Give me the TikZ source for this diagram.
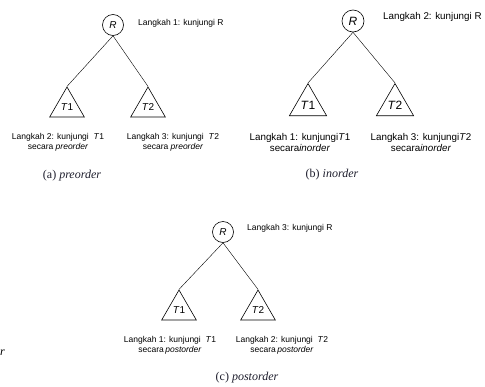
\documentclass[tikz,border=0pt]{standalone}
\usepackage{fontspec}
\setmainfont{Liberation Serif}
\setsansfont{Liberation Sans}
\usetikzlibrary{shapes.geometric, positioning}
\definecolor{capcol}{RGB}{30,30,45}

\begin{document}
\begin{tikzpicture}[x=1pt, y=-1pt,
    root/.style={circle, draw, semithick, minimum size=21pt, inner sep=0pt, font=\sffamily\itshape},
    subtree/.style={regular polygon, regular polygon sides=3, draw, semithick, minimum size=40pt, inner sep=0pt, font=\sffamily},
    stepnote/.style={font=\sffamily\fontsize{8.5}{10}\selectfont, align=center, inner sep=0pt},
    bignote/.style={font=\sffamily\fontsize{9.8}{11}\selectfont, align=center, inner sep=0pt},
    caption/.style={font=\fontsize{12}{14}\selectfont, text=capcol, inner sep=0pt},
    edge/.style={draw, thin}]
    \useasboundingbox (0,0) rectangle (485,386);
        % preorder
        \node [root] (a_r) at (113,25) {R};
        \node [subtree] (a_t1) at (67,107) {\textit{T}1};
        \node [subtree] (a_t2) at (148,107) {\textit{T}2};
        \node [stepnote, anchor=west] (a_step_r) at (138,23) {Langkah 1: kunjungi R};
        \node [stepnote] (a_step_t1) at (58,142) {Langkah 2: kunjungi\ \ \textit{T}1\\secara \textit{preorder}};
        \node [stepnote] (a_step_t2) at (173,142) {Langkah 3: kunjungi\ \ \textit{T}2\\secara \textit{preorder}};
        \node [caption] (a_cap) at (72,176) {(a) \textit{preorder}};
        \draw [edge] (a_r.south) -- (a_t1.corner 1);
        \draw [edge] (a_r.south) -- (a_t2.corner 1);

        % inorder
        \node [root, minimum size=22pt, font=\sffamily\itshape\large] (b_r) at (353,21) {R};
        \node [subtree, minimum size=43pt, font=\sffamily\large] (b_t1) at (308,105) {\textit{T}1};
        \node [subtree, minimum size=43pt, font=\sffamily\large] (b_t2) at (395,105) {\textit{T}2};
        \node [bignote, anchor=west] (b_step_r) at (383,17) {Langkah 2: kunjungi R};
        \node [bignote] (b_step_t1) at (300,142) {Langkah 1: kunjungi\textit{T}1\\secara\textit{inorder}};
        \node [bignote] (b_step_t2) at (421,142) {Langkah 3: kunjungi\textit{T}2\\secara\textit{inorder}};
        \node [caption] (b_cap) at (332,175) {(b) \textit{inorder}};
        \draw [edge] (b_r.south) -- (b_t1.corner 1);
        \draw [edge] (b_r.south) -- (b_t2.corner 1);

        % postorder
        \node [root] (c_r) at (223,232) {R};
        \node [subtree] (c_t1) at (179,310) {\textit{T}1};
        \node [subtree] (c_t2) at (258,310) {\textit{T}2};
        \node [stepnote, anchor=west] (c_step_r) at (247,228) {Langkah 3: kunjungi R};
        \node [stepnote] (c_step_t1) at (170,345) {Langkah 1: kunjungi\ \ \textit{T}1\\secara\,\textit{postorder}};
        \node [stepnote] (c_step_t2) at (282,345) {Langkah 2: kunjungi\ \ \textit{T}2\\secara\,\textit{postorder}};
        \node [caption] (c_cap) at (247,378) {(c) \textit{postorder}};
        \draw [edge] (c_r.south) -- (c_t1.corner 1);
        \draw [edge] (c_r.south) -- (c_t2.corner 1);

        % leftover letter at the edge
        \node [caption, anchor=west, text=black] (stray) at (0,353) {\textit{r}};
\end{tikzpicture}
\end{document}
